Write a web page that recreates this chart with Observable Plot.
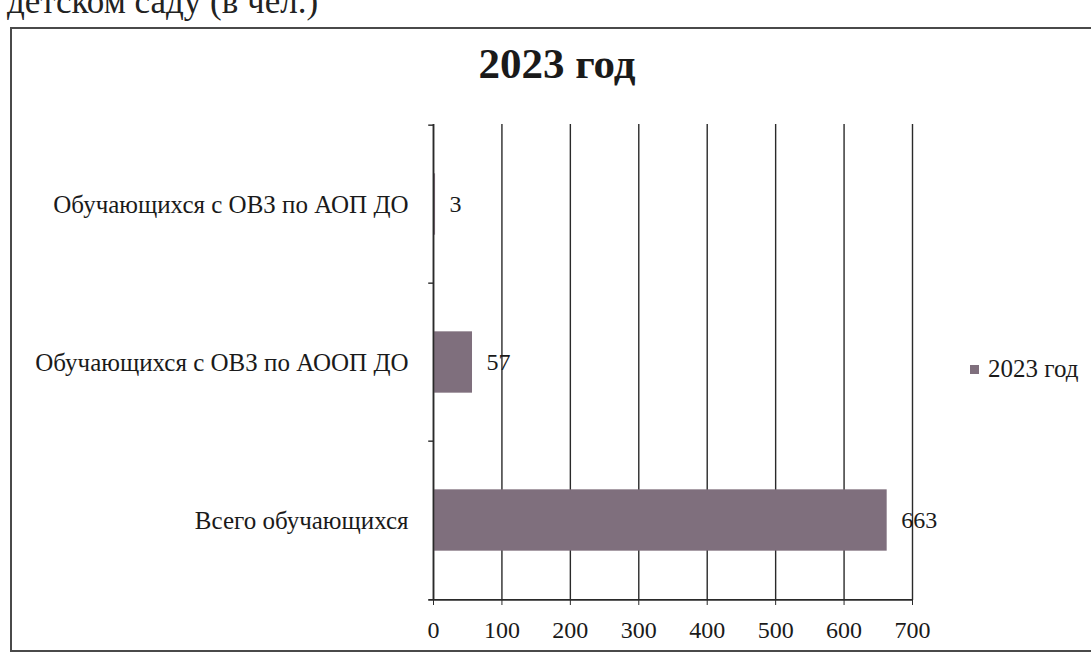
<!DOCTYPE html>
<html>
<head>
<meta charset="utf-8">
<script src="https://cdn.jsdelivr.net/npm/d3@7"></script>
<script src="https://cdn.jsdelivr.net/npm/@observablehq/plot@0.6"></script>
<style>
  html, body { margin: 0; padding: 0; background: #fff; overflow: hidden; }
  body { width: 1091px; height: 654px; position: relative; font-family: "Liberation Serif", serif; color: #1a1a1a; }
  #caption { position: absolute; left: 7px; top: -16px; font-size: 35px; line-height: 35px; white-space: nowrap; color: #222; }
  #box { position: absolute; left: 10px; top: 27px; width: 1200px; height: 625px; border: 2px solid #4a4a4a; box-sizing: border-box; }
  #title { position: absolute; left: 307px; width: 500px; top: 42px; text-align: center; font-size: 43px; font-weight: bold; line-height: 43px; color: #1a1a1a; }
  #chart { position: absolute; left: 0; top: 90px; }
  #legend { position: absolute; left: 970px; top: 354px; font-size: 25px; line-height: 30px; white-space: nowrap; display: flex; align-items: center; }
  #legend .sw { width: 9px; height: 9px; margin-right: 9px; display: inline-block; }
</style>
</head>
<body>
<div id="caption">детском саду (в чел.)</div>
<div id="box"></div>
<div id="title"></div>
<div id="chart"></div>
<div id="legend"></div>
<script>
// ---- data ----
const categories = ["Обучающихся с ОВЗ по АОП ДО", "Обучающихся с ОВЗ по АООП ДО", "Всего обучающихся"];
const values = [3, 57, 663];
const xTicks = [0, 100, 200, 300, 400, 500, 600, 700];
const seriesName = "2023 год";
const chartTitle = "2023 год";

const barColor = "#7f6f7d";
const data = categories.map((c, i) => ({category: c, value: values[i]}));

const width = 960, height = 550;
const marginTop = 34, marginBottom = 40, marginLeft = 433, marginRight = 48;
const step = (height - marginTop - marginBottom) / categories.length;
const barH = 62;
const inset = (step - barH) / 2;

document.getElementById("title").textContent = chartTitle;
document.getElementById("legend").innerHTML =
  `<span class="sw" style="background:${barColor}"></span><span>${seriesName}</span>`;

const chart = Plot.plot({
  width, height, marginTop, marginBottom, marginLeft, marginRight,
  style: {fontFamily: "Liberation Serif, serif", fontSize: "24px", color: "#1a1a1a", background: "transparent", overflow: "visible"},
  x: {domain: [0, 700], label: null},
  y: {type: "band", domain: categories, padding: 0, label: null},
  marks: [
    Plot.gridX(xTicks, {stroke: "#2a2a2a", strokeOpacity: 1, strokeWidth: 1.4}),
    Plot.barX(data, {x: "value", y: "category", fill: barColor, insetTop: inset, insetBottom: inset}),
    Plot.ruleX([0], {stroke: "#2a2a2a", strokeWidth: 1.6}),
    // category boundary ticks on the y axis
    Plot.ruleY(categories, {y: d => d, dy: -step / 2, x1: -7, x2: 0, stroke: "#2a2a2a", strokeWidth: 1.4}),
    Plot.ruleY([categories[categories.length - 1]], {y: d => d, dy: step / 2, x1: -7, x2: 700, stroke: "#2a2a2a", strokeWidth: 1.6}),
    Plot.text(data, {x: "value", y: "category", text: d => String(d.value), textAnchor: "start", dx: 14, fontSize: 24, fill: "#1a1a1a"}),
    Plot.axisX({ticks: xTicks, tickSize: 5, tickPadding: 15, fontSize: 24, tickFormat: d => String(d), stroke: "#2a2a2a", label: null}),
    Plot.axisY({tickSize: 0, tickPadding: 25, fontSize: 25, label: null})
  ]
});
document.getElementById("chart").appendChild(chart);
</script>
</body>
</html>
